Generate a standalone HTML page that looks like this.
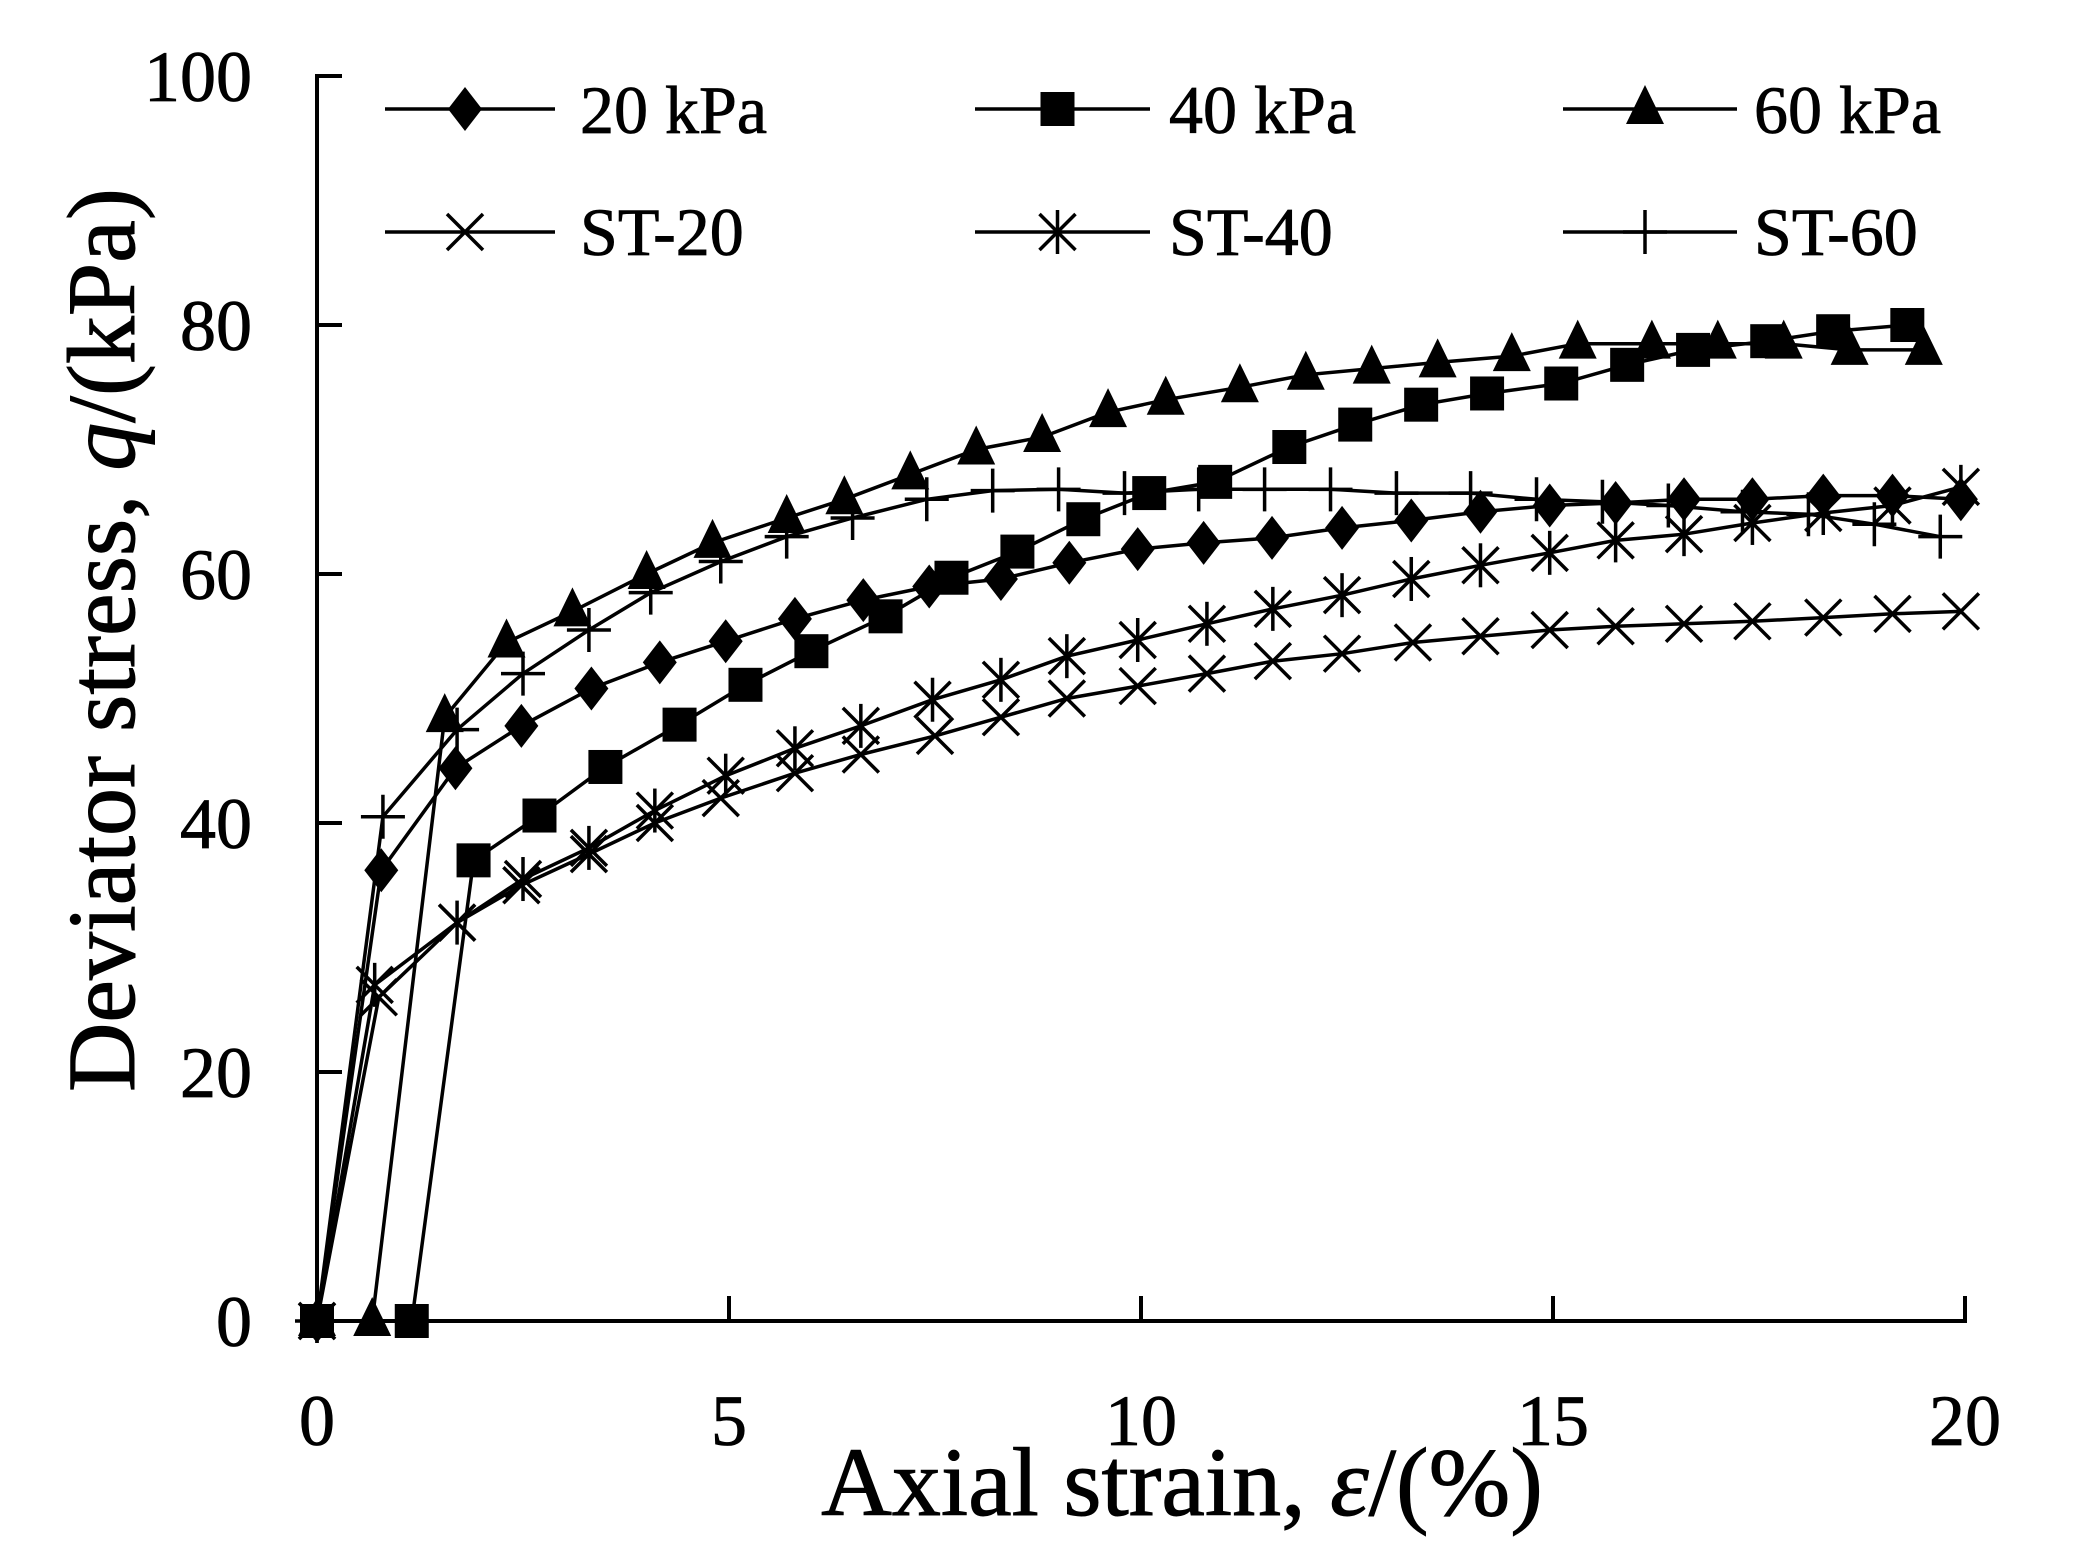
<!DOCTYPE html>
<html><head><meta charset="utf-8"><style>
html,body{margin:0;padding:0;background:#fff}
svg{display:block}
text{font-family:"Liberation Serif",serif;fill:#000}
</style></head><body>
<svg id="s" width="2073" height="1568" viewBox="0 0 2073 1568" xmlns="http://www.w3.org/2000/svg">
<g stroke="#000" stroke-width="4" fill="none">
<polyline points="342,76 317,76 317,1321 1965,1321 1965,1296"/>
<line x1="317" y1="1072" x2="342" y2="1072"/>
<line x1="317" y1="823" x2="342" y2="823"/>
<line x1="317" y1="574" x2="342" y2="574"/>
<line x1="317" y1="325" x2="342" y2="325"/>
<line x1="729" y1="1321" x2="729" y2="1296"/>
<line x1="1141" y1="1321" x2="1141" y2="1296"/>
<line x1="1553" y1="1321" x2="1553" y2="1296"/>
</g>
<g font-size="72" text-anchor="end" stroke="#000" stroke-width="0.8">
<text x="252" y="1346">0</text>
<text x="252" y="1097">20</text>
<text x="252" y="848">40</text>
<text x="252" y="599">60</text>
<text x="252" y="350">80</text>
<text x="252" y="101">100</text>
</g>
<g font-size="72" text-anchor="middle" stroke="#000" stroke-width="0.8">
<text x="317" y="1445">0</text>
<text x="729" y="1445">5</text>
<text x="1141" y="1445">10</text>
<text x="1553" y="1445">15</text>
<text x="1965" y="1445">20</text>
</g>
<text x="1182" y="1515" font-size="98" text-anchor="middle" stroke="#000" stroke-width="1">Axial strain, <tspan font-style="italic">ε</tspan>/(%)</text>
<text transform="translate(134,640) rotate(-90)" font-size="96" text-anchor="middle" stroke="#000" stroke-width="1">Deviator stress, <tspan font-style="italic">q</tspan>/(kPa)</text>
<g font-size="68" stroke="#000" stroke-width="0.8">
<text x="580" y="133">20 kPa</text>
<text x="1169" y="133">40 kPa</text>
<text x="1754" y="133">60 kPa</text>
<text x="580" y="255">ST-20</text>
<text x="1169" y="255">ST-40</text>
<text x="1754" y="255">ST-60</text>
</g>
<g id="plot"></g>
</svg>
<script>
var X=function(x){return 317+x*82.4},Y=function(y){return 1321-y*12.45};
var S={
d:[[0,0],[0.78,36.2],[1.68,44.4],[2.48,47.8],[3.33,50.8],[4.16,52.9],[4.96,54.6],[5.8,56.4],[6.63,57.9],[7.43,59],[8.3,59.6],[9.13,60.9],[9.96,62],[10.76,62.5],[11.59,62.9],[12.44,63.7],[13.28,64.3],[14.12,65],[14.96,65.5],[15.76,65.7],[16.59,66],[17.42,66],[18.28,66.3],[19.12,66.3],[19.95,66]],
s:[[0,0],[1.15,0],[1.9,37],[2.7,40.6],[3.5,44.5],[4.4,47.9],[5.2,51.1],[6,53.8],[6.9,56.6],[7.7,59.7],[8.5,61.8],[9.3,64.4],[10.1,66.5],[10.9,67.4],[11.8,70.2],[12.6,72],[13.4,73.6],[14.2,74.5],[15.1,75.3],[15.9,76.8],[16.7,78],[17.6,78.7],[18.4,79.5],[19.3,80]],
t:[[0,0],[0.67,0],[1.55,48.5],[2.3,54.5],[3.1,57],[4,60],[4.8,62.5],[5.7,64.5],[6.4,66],[7.2,68],[8,70],[8.8,71],[9.6,73],[10.3,74],[11.2,75],[12,76],[12.8,76.5],[13.6,77],[14.5,77.5],[15.3,78.5],[16.2,78.5],[17,78.5],[17.8,78.5],[18.6,78],[19.5,78]],
x:[[0,0],[0.75,26],[1.7,32],[2.48,35],[3.3,37.5],[4.1,40],[4.9,42],[5.8,44],[6.6,45.5],[7.5,47],[8.3,48.5],[9.1,50],[9.96,51],[10.8,52],[11.6,53],[12.44,53.6],[13.3,54.5],[14.12,55],[14.96,55.5],[15.76,55.8],[16.59,56],[17.42,56.2],[18.28,56.5],[19.12,56.8],[19.95,57]],
a:[[0,0],[0.7,27],[1.7,32],[2.5,35.5],[3.3,38],[4.1,41],[4.96,43.8],[5.8,46],[6.6,47.8],[7.47,49.9],[8.3,51.5],[9.1,53.4],[9.96,54.7],[10.8,56],[11.6,57.2],[12.44,58.3],[13.28,59.6],[14.12,60.7],[14.96,61.7],[15.76,62.7],[16.59,63.2],[17.42,64.1],[18.28,64.9],[19.12,65.5],[19.95,67]],
p:[[0,0],[0.8,40.5],[1.7,47.5],[2.5,52],[3.3,55.5],[4.05,58.5],[4.9,61],[5.7,63],[6.5,64.5],[7.4,66],[8.2,66.7],[9,66.8],[9.8,66.5],[10.7,66.8],[11.5,66.8],[12.3,66.8],[13.1,66.5],[14,66.5],[14.8,66],[15.6,65.8],[16.4,65.5],[17.3,65],[18.1,64.8],[18.9,64],[19.7,63]]};
function mk(t,x,y){
 if(t=='d')return '<polygon points="'+x+','+(y-22)+' '+(x+17)+','+y+' '+x+','+(y+22)+' '+(x-17)+','+y+'" fill="#000"/>';
 if(t=='s')return '<rect x="'+(x-17)+'" y="'+(y-17)+'" width="34" height="34" fill="#000"/>';
 if(t=='t')return '<polygon points="'+x+','+(y-24)+' '+(x+19)+','+(y+15)+' '+(x-19)+','+(y+15)+'" fill="#000"/>';
 var r=18,h='';
 if(t=='x'||t=='a')h+='<path d="M'+(x-r)+','+(y-r)+'L'+(x+r)+','+(y+r)+'M'+(x-r)+','+(y+r)+'L'+(x+r)+','+(y-r)+'" stroke="#000" stroke-width="3.5"/>';
 if(t=='a')h+='<path d="M'+x+','+(y-22)+'L'+x+','+(y+22)+'" stroke="#000" stroke-width="3.5"/>';
 if(t=='p')h+='<path d="M'+(x-22)+','+y+'L'+(x+22)+','+y+'M'+x+','+(y-22)+'L'+x+','+(y+22)+'" stroke="#000" stroke-width="3.5"/>';
 return h;}
var h='';
for(var k in S){var pts=S[k].map(function(p){return X(p[0]).toFixed(1)+','+Y(p[1]).toFixed(1)}).join(' ');
 h+='<polyline points="'+pts+'" fill="none" stroke="#000" stroke-width="3.5"/>';}
for(var k in S){S[k].forEach(function(p){h+=mk(k,X(p[0]),Y(p[1]))});}
var L=[['d',385,555,109],['s',975,1150,109],['t',1563,1737,109],['x',385,555,232],['a',975,1150,232],['p',1563,1737,232]];
L.forEach(function(l){h+='<line x1="'+l[1]+'" y1="'+l[3]+'" x2="'+l[2]+'" y2="'+l[3]+'" stroke="#000" stroke-width="3.5"/>'+mk(l[0],(l[1]+l[2])/2-5,l[3]);});
document.getElementById('plot').innerHTML=h;
</script>
</body></html>
